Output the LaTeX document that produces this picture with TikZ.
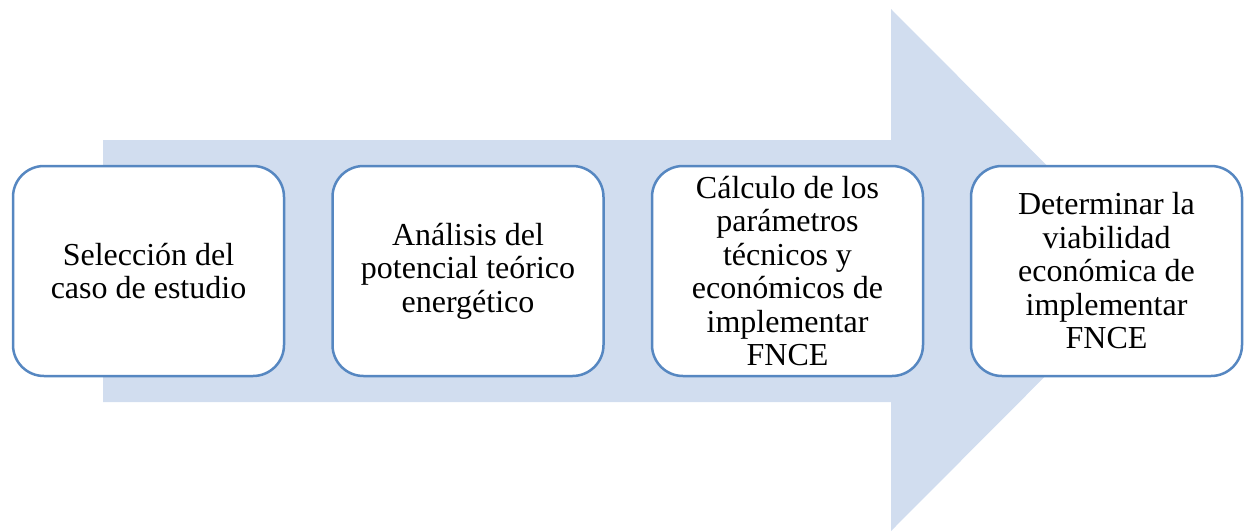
\documentclass[tikz,border=0pt]{standalone}
\usepackage{fontspec}
\setmainfont{Liberation Serif}
\definecolor{arrowfill}{HTML}{D1DDEF}
\definecolor{boxline}{HTML}{5687C1}
\tikzset{
  stage/.style={draw=boxline,line width=2.5pt,fill=white,rounded corners=31pt,
    minimum width=271pt,minimum height=210pt,inner sep=0pt,align=center,
    font=\fontsize{32}{33.5}\selectfont}
}
\begin{document}
\begin{tikzpicture}[x=1pt,y=-1pt]
  \useasboundingbox (0,0) rectangle (1248,531);
  \fill[arrowfill] (103,140) -- (891,140) -- (891,9) -- (1151,270) -- (891,531) -- (891,402) -- (103,402) -- cycle;
  \node[stage] (1) at (148.5,271) {Selección del\\caso de estudio};
  \node[stage] (2) at (468,271) {Análisis del\\potencial teórico\\energético};
  \node[stage] (3) at (787.5,271) {Cálculo de los\\parámetros\\técnicos y\\económicos de\\implementar\\FNCE};
  \node[stage] (4) at (1106.5,271) {Determinar la\\viabilidad\\económica de\\implementar\\FNCE};
\end{tikzpicture}
\end{document}
